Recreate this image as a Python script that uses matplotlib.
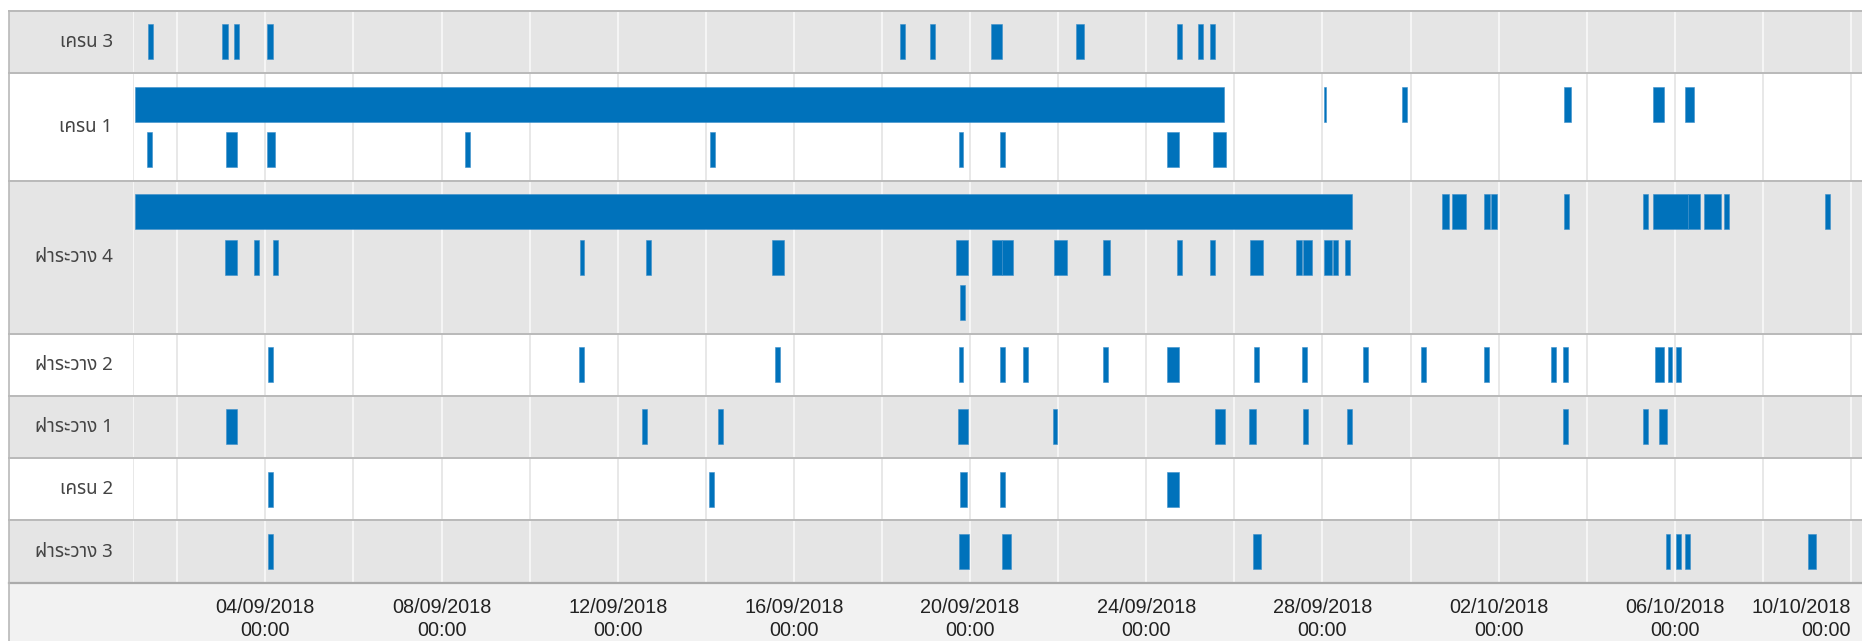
import datetime as dt
import matplotlib
matplotlib.use("Agg")
import matplotlib.pyplot as plt
import matplotlib.dates as mdates
from matplotlib.patches import Rectangle
from matplotlib.lines import Line2D
from matplotlib.transforms import blended_transform_factory
from matplotlib import font_manager
from matplotlib.ft2font import FT2Font

# ---------------- data (days since 2018-09-01 00:00) ----------------
row_names = ["เครน 3", "เครน 1", "ฝาระวาง 4", "ฝาระวาง 2", "ฝาระวาง 1", "เครน 2", "ฝาระวาง 3"]

crane3 = [(0.34, 0.45), (2.02, 2.16), (2.29, 2.40), (3.03, 3.17), (17.41, 17.52), (18.08, 18.20),
          (19.47, 19.72), (21.40, 21.59), (23.70, 23.81), (24.17, 24.28), (24.45, 24.57)]
crane1 = [(0.03, 24.77), (0.31, 0.42), (2.11, 2.35), (3.03, 3.22), (7.53, 7.64), (13.09, 13.21),
          (18.75, 18.85), (19.69, 19.80), (23.47, 23.74), (24.51, 24.81), (27.03, 27.07),
          (28.81, 28.92), (32.48, 32.65), (34.51, 34.75), (35.22, 35.43)]
hatch4 = [(0.03, 27.68), (2.08, 2.35), (2.74, 2.85), (3.17, 3.28), (10.14, 10.24), (11.64, 11.75),
          (14.51, 14.78), (18.69, 18.96), (18.77, 18.88), (19.50, 19.73), (19.73, 19.97),
          (20.91, 21.21), (22.01, 22.18), (23.70, 23.82), (24.45, 24.57), (25.35, 25.66),
          (26.41, 26.54), (26.56, 26.76), (27.04, 27.22), (27.25, 27.36), (27.51, 27.63),
          (29.72, 29.87), (29.95, 30.26), (30.67, 30.80), (30.83, 30.96), (32.48, 32.60),
          (34.27, 34.38), (34.51, 35.30), (35.30, 35.57), (35.66, 36.06), (36.12, 36.22),
          (38.42, 38.52)]
hatch2 = [(3.06, 3.17), (10.13, 10.23), (14.57, 14.69), (18.75, 18.85), (19.69, 19.80),
          (20.19, 20.31), (22.02, 22.14), (23.47, 23.74), (25.44, 25.56), (26.54, 26.65),
          (27.91, 28.03), (29.23, 29.34), (30.66, 30.77), (32.18, 32.30), (32.46, 32.58),
          (34.55, 34.76), (34.84, 34.94), (35.03, 35.13)]
hatch1 = [(2.11, 2.35), (11.54, 11.66), (13.28, 13.40), (18.73, 18.95), (20.89, 20.97),
          (24.55, 24.78), (25.33, 25.48), (26.55, 26.67), (27.56, 27.68), (32.47, 32.58),
          (34.28, 34.39), (34.63, 34.83)]
crane2 = [(3.05, 3.17), (13.07, 13.19), (18.77, 18.94), (19.69, 19.80), (23.46, 23.75)]
hatch3 = [(3.06, 3.17), (18.75, 18.98), (19.72, 19.93), (25.42, 25.61), (34.79, 34.90),
          (35.03, 35.14), (35.22, 35.34), (38.02, 38.21)]

row_data = [crane3, crane1, hatch4, hatch2, hatch1, crane2, hatch3]

base_date = dt.datetime(2018, 9, 1)
view_end_days = 39.25
tick_dates = [dt.datetime(2018, 9, 4) + dt.timedelta(days=4 * i) for i in range(10)]
grid_dates = [dt.datetime(2018, 9, 2) + dt.timedelta(days=2 * i) for i in range(20)]

# ---------------- fonts ----------------
def find_thai_family():
    found = []
    seen = set()
    for fe in font_manager.fontManager.ttflist:
        if fe.fname in seen:
            continue
        seen.add(fe.fname)
        try:
            cm = FT2Font(fe.fname).get_charmap()
        except Exception:
            continue
        if 0x0E04 in cm and 0x0E1D in cm and 0x0E27 in cm:
            found.append(fe.name)
    pref = ["Noto Sans Thai", "Noto Sans Thai UI", "Loma", "Garuda", "Tlwg Typist", "Norasi"]
    for p in pref:
        if p in found:
            return p
    return found[0] if found else None

thai = find_thai_family()
label_family = ([thai] if thai else []) + ["Liberation Sans", "DejaVu Sans"]
tick_family = ["Liberation Sans", "DejaVu Sans"]

# ---------------- layout (pixels) ----------------
W, H = 1862, 641
frame_left = 9
plot_left = 133.25
top = 10.7
pad = 13.65
bar_h = 35.0
gap = 10.3
axis_h = 59

def assign_lanes(bars):
    lanes_end = []
    out = []
    for s, e in sorted(bars, key=lambda b: b[0]):
        for i, le in enumerate(lanes_end):
            if le <= s + 1e-9:
                lanes_end[i] = e
                out.append((s, e, i))
                break
        else:
            lanes_end.append(e)
            out.append((s, e, len(lanes_end) - 1))
    return out, len(lanes_end)

rows = []
y = 0.0
for name, bars in zip(row_names, row_data):
    placed, n = assign_lanes(bars)
    h = 2 * pad + n * bar_h + (n - 1) * gap
    rows.append((name, placed, y, h))
    y += h
total = y

fig = plt.figure(figsize=(W / 100, H / 100), dpi=100)
fig.patch.set_facecolor("white")

# axis strip (figure level, drawn beneath the axes)
fig.patches.append(Rectangle((frame_left / W, 0), 1 - frame_left / W, axis_h / H,
                             transform=fig.transFigure, facecolor="#F2F2F2",
                             edgecolor="none", zorder=-5))

ax = fig.add_axes([plot_left / W, (H - top - total) / H, (W - plot_left) / W, total / H])
ax.set_facecolor("none")
ax.set_ylim(total, 0)
x0 = mdates.date2num(base_date)
ax.set_xlim(x0, x0 + view_end_days)
ax.xaxis_date()
for sp in ax.spines.values():
    sp.set_visible(False)
ax.set_yticks([])

blend = blended_transform_factory(fig.transFigure, ax.transData)

BLUE = "#0072BB"
GRAY_ROW = "#E5E5E5"
SEP = "#B9B9B9"

for idx, (name, placed, y0, h) in enumerate(rows):
    gray = idx % 2 == 0
    ax.add_patch(Rectangle((frame_left / W, y0), 1 - frame_left / W, h, transform=blend,
                           facecolor=GRAY_ROW if gray else "white", edgecolor="none",
                           clip_on=False, zorder=0))
    gcol = "#F7F7F7" if gray else "#E6E6E6"
    gx = [mdates.date2num(g) for g in grid_dates] + [x0]
    ax.vlines(gx, y0 + 1, y0 + h - 1, colors=gcol, linewidth=1.3, zorder=1)
    ax.text((plot_left - 20.5) / W, y0 + h / 2, name, transform=blend, ha="right", va="center",
            fontsize=13.5, color="#444444", family=label_family)
    for s, e, lane in placed:
        yc = y0 + pad + lane * (bar_h + gap) + bar_h / 2
        ax.barh(yc, e - s, left=x0 + s, height=bar_h, color=BLUE,
                edgecolor="#3D8FCB", linewidth=0.4, zorder=3)

# separators
for idx, (name, placed, y0, h) in enumerate(rows):
    ax.add_line(Line2D([frame_left / W, 1], [y0, y0], transform=blend, color=SEP,
                       linewidth=1.4, clip_on=False, zorder=4))
ax.add_line(Line2D([frame_left / W, 1], [total, total], transform=blend, color="#ABABAB",
                   linewidth=1.6, clip_on=False, zorder=4))
ax.add_line(Line2D([frame_left / W, frame_left / W], [0, total + axis_h + 5], transform=blend,
                   color=SEP, linewidth=1.2, clip_on=False, zorder=4))

ax.set_xticks([mdates.date2num(t) for t in tick_dates])
ax.set_xticklabels([t.strftime("%d/%m/%Y\n%H:%M") for t in tick_dates],
                   family=tick_family, fontsize=14.3, color="#222222", linespacing=1.3)
ax.tick_params(axis="x", length=0, pad=11)
labels = ax.get_xticklabels()
labels[-1].set_horizontalalignment("right")

fig.savefig("out.png", dpi=100, facecolor="white")
